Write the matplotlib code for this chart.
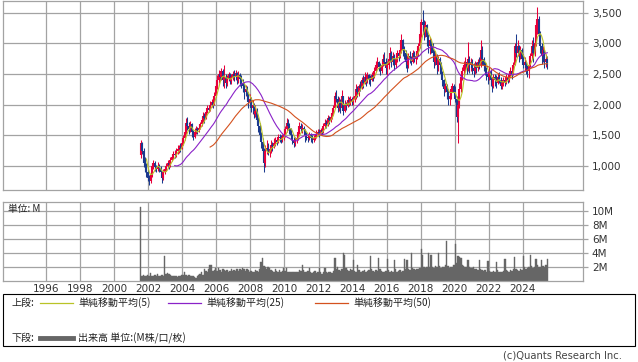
import numpy as np
import pandas as pd
import matplotlib
matplotlib.use('Agg')
import matplotlib.pyplot as plt
from matplotlib.patches import Rectangle
from matplotlib.lines import Line2D
from matplotlib.ticker import FuncFormatter

# monthly candles, Jul 2001 .. Jun 2025
first_open = 1180
close = [
    1380, 1250, 1050, 1000, 900, 800,                                   # 2001 (Jul-)
    760, 850, 1000, 1050, 980, 950, 1000, 960, 900, 800, 900, 950,       # 2002
    1000, 1050, 1020, 1100, 1150, 1200, 1180, 1250, 1280, 1300, 1280, 1380,
    1450, 1550, 1700, 1650, 1600, 1680, 1550, 1480, 1560, 1600, 1580, 1620,
    1680, 1750, 1820, 1780, 1880, 1950, 1920, 2000, 2050, 2000, 2150, 2300,
    2400, 2500, 2450, 2550, 2400, 2450, 2350, 2420, 2500, 2380, 2450, 2500,
    2450, 2520, 2400, 2480, 2420, 2350, 2300, 2200, 2250, 2150, 2050, 2100,
    1950, 2000, 1850, 1900, 1750, 1650, 1500, 1400, 1250, 1050, 1250, 1300,
    1230, 1280, 1350, 1320, 1380, 1420, 1400, 1480, 1450, 1420, 1480, 1500,
    1600, 1700, 1650, 1600, 1500, 1420, 1380, 1420, 1450, 1550, 1650, 1600,
    1620, 1580, 1500, 1480, 1450, 1500, 1460, 1420, 1450, 1480, 1520, 1550,
    1530, 1580, 1560, 1650, 1700, 1680, 1780, 1750, 1800, 1860, 1950, 2150,
    2100, 1950, 2050, 1950, 2150, 1900, 2000, 1980, 2080, 2050, 2100, 2050,
    2100, 2150, 2250, 2200, 2300, 2280, 2400, 2350, 2450, 2380, 2480, 2420,
    2400, 2480, 2450, 2550, 2650, 2700, 2620, 2550, 2650, 2750, 2700, 2600,
    2650, 2750, 2850, 2700, 2800, 2650, 2750, 2850, 2800, 2900, 3050, 2900,
    2850, 2700, 2650, 2800, 2750, 2700, 2850, 2750, 2800, 2880, 2950, 3150,
    3350, 3300, 3200, 3300, 3100, 2950, 3050, 2950, 2850, 2700, 2800, 2650,
    2750, 2650, 2500, 2400, 2250, 2300, 2200, 2100, 2150, 2250, 2300, 2200,
    2100, 1800, 2000, 2250, 2450, 2550, 2650, 2700, 2600, 2750, 2650, 2700,
    2600, 2550, 2650, 2600, 2700, 2650, 2900, 2750, 2650, 2550, 2500, 2450,
    2550, 2400, 2300, 2450, 2400, 2350, 2450, 2400, 2300, 2350, 2400, 2350,
    2450, 2400, 2500, 2550, 2500, 2650, 2950, 2850, 2950, 2800, 2900, 2750,
    2650, 2700, 2600, 2550, 2650, 2800, 2950, 2850, 3000, 3300, 3400, 3150,
    2950, 2800, 2900, 2700, 2750, 2650,                                  # 2025 (-Jun)
]
high = [
    1430, 1400, 1300, 1150, 1050, 950,
    850, 900, 1050, 1100, 1080, 1020, 1060, 1030, 1000, 920, 950, 1000,
    1050, 1100, 1080, 1150, 1200, 1250, 1260, 1300, 1350, 1350, 1380, 1420,
    1500, 1600, 1780, 1800, 1720, 1740, 1700, 1580, 1620, 1650, 1640, 1680,
    1720, 1800, 1880, 1860, 1920, 2000, 2000, 2060, 2100, 2080, 2200, 2350,
    2480, 2560, 2550, 2600, 2580, 2640, 2500, 2480, 2540, 2520, 2500, 2550,
    2560, 2560, 2540, 2550, 2520, 2480, 2420, 2350, 2320, 2300, 2200, 2180,
    2120, 2080, 2020, 2000, 1950, 1800, 1700, 1550, 1450, 1300, 1350, 1420,
    1380, 1350, 1420, 1400, 1450, 1480, 1460, 1530, 1520, 1500, 1530, 1560,
    1650, 1780, 1760, 1700, 1620, 1530, 1480, 1470, 1520, 1600, 1720, 1700,
    1680, 1660, 1600, 1560, 1530, 1550, 1540, 1500, 1500, 1520, 1580, 1600,
    1600, 1620, 1610, 1700, 1760, 1750, 1830, 1820, 1850, 1900, 2000, 2200,
    2247, 2150, 2120, 2100, 2240, 2150, 2080, 2050, 2150, 2130, 2150, 2130,
    2150, 2200, 2345, 2300, 2340, 2380, 2450, 2480, 2535, 2500, 2530, 2500,
    2480, 2535, 2520, 2620, 2720, 2780, 2720, 2680, 2720, 2820, 2860, 2760,
    2720, 2800, 2940, 2880, 2860, 2820, 2800, 2900, 2880, 2950, 3160, 3080,
    2950, 2890, 2750, 2850, 2880, 2800, 2900, 2880, 2850, 2920, 3000, 3200,
    3400, 3550, 3380, 3370, 3320, 3150, 3100, 3080, 3000, 2900, 2880, 2830,
    2800, 2780, 2700, 2550, 2420, 2350, 2330, 2250, 2200, 2300, 2350, 2340,
    2300, 2150, 2100, 2350, 2550, 2615, 2720, 2780, 2750, 3020, 2800, 2760,
    2750, 2680, 2720, 2700, 2750, 2780, 3050, 2950, 2780, 2700, 2620, 2560,
    2615, 2580, 2450, 2500, 2500, 2480, 2520, 2535, 2450, 2400, 2450, 2450,
    2500, 2480, 2550, 2615, 2600, 2700, 3000, 3160, 3050, 2980, 2950, 2920,
    2830, 2780, 2720, 2650, 2700, 2850, 3050, 3100, 3080, 3350, 3600, 3450,
    3200, 3000, 2950, 2900, 2830, 2800,
]
low = [
    1130, 1200, 980, 900, 820, 750,
    690, 720, 820, 950, 920, 900, 920, 900, 850, 730, 780, 870,
    920, 960, 950, 990, 1080, 1120, 1130, 1150, 1200, 1220, 1230, 1270,
    1350, 1430, 1520, 1580, 1520, 1560, 1480, 1420, 1450, 1530, 1520, 1560,
    1600, 1660, 1720, 1700, 1760, 1860, 1880, 1900, 1960, 1940, 1990, 2120,
    2250, 2350, 2380, 2400, 2300, 2280, 2270, 2300, 2380, 2330, 2340, 2400,
    2380, 2400, 2340, 2350, 2300, 2280, 2200, 2100, 2150, 2080, 1950, 1980,
    1880, 1850, 1780, 1800, 1700, 1550, 1420, 1300, 1100, 907, 980, 1200,
    1180, 1150, 1220, 1250, 1300, 1330, 1340, 1380, 1390, 1370, 1400, 1430,
    1480, 1560, 1580, 1520, 1420, 1360, 1315, 1330, 1380, 1430, 1520, 1550,
    1540, 1520, 1400, 1420, 1400, 1420, 1400, 1370, 1390, 1420, 1460, 1490,
    1480, 1500, 1510, 1540, 1620, 1620, 1660, 1690, 1720, 1760, 1840, 1940,
    2050, 1880, 1900, 1860, 1920, 1830, 1880, 1920, 1960, 1980, 2000, 1990,
    2000, 2050, 2100, 2120, 2150, 2220, 2250, 2280, 2330, 2300, 2360, 2340,
    2300, 2380, 2380, 2430, 2530, 2600, 2550, 2480, 2520, 2630, 2650, 2500,
    2480, 2580, 2700, 2620, 2650, 2560, 2600, 2700, 2720, 2760, 2850, 2800,
    2750, 2600, 2535, 2600, 2680, 2650, 2680, 2700, 2660, 2750, 2800, 2920,
    3100, 3150, 3050, 3100, 2950, 2850, 2830, 2850, 2720, 2600, 2650, 2500,
    2550, 2550, 2450, 2300, 2150, 2200, 2100, 2000, 1990, 2100, 2200, 2180,
    2050, 1720, 1370, 1950, 2200, 2400, 2480, 2550, 2500, 2550, 2520, 2550,
    2500, 2450, 2500, 2520, 2550, 2580, 2620, 2650, 2550, 2480, 2400, 2345,
    2400, 2300, 2210, 2280, 2300, 2265, 2330, 2350, 2250, 2250, 2300, 2300,
    2330, 2350, 2370, 2450, 2420, 2480, 2650, 2780, 2800, 2700, 2750, 2700,
    2600, 2550, 2500, 2450, 2440, 2620, 2750, 2700, 2800, 2950, 3150, 3050,
    2850, 2670, 2700, 2600, 2620, 2590,
]
volume_m = [
    10.6, 0.8, 0.9, 0.7, 0.8, 0.9,
    0.7, 1.2, 0.8, 0.7, 0.9, 0.8, 1.0, 0.8, 0.7, 0.9, 0.8, 3.6,
    1.0, 1.2, 1.0, 0.9, 0.8, 0.7, 0.7, 0.8, 0.6, 0.7, 0.8, 0.9,
    0.9, 1.4, 0.9, 0.8, 0.9, 0.8, 0.7, 0.8, 0.6, 0.5, 0.8, 0.9,
    1.0, 1.4, 0.9, 1.7, 1.5, 1.3, 1.7, 2.4, 2.3, 1.5, 1.6, 1.9,
    1.5, 1.9, 1.6, 1.4, 1.7, 1.6, 1.5, 1.6, 1.4, 1.5, 1.7, 1.5,
    1.6, 1.5, 1.8, 1.5, 1.7, 1.6, 1.9, 1.8, 1.5, 1.7, 1.6, 1.4,
    1.5, 1.4, 1.3, 1.6, 1.5, 1.4, 1.8, 2.8, 3.3, 2.2, 2.0, 1.8,
    2.1, 1.9, 1.6, 1.5, 1.4, 1.7, 1.5, 1.4, 1.6, 1.4, 1.5, 1.9,
    1.5, 1.9, 1.4, 1.3, 1.4, 1.3, 1.4, 1.3, 1.4, 1.3, 1.6, 1.5,
    2.3, 1.6, 1.4, 1.3, 1.5, 1.9, 1.3, 1.2, 1.4, 1.5, 1.2, 1.3,
    1.9, 1.3, 1.1, 1.4, 1.9, 1.3, 1.2, 1.3, 1.4, 1.2, 1.5, 3.3,
    1.8, 2.0, 1.6, 1.5, 1.7, 4.0, 3.8, 1.9, 1.6, 1.5, 1.8, 1.6,
    3.0, 1.5, 1.4, 2.3, 1.6, 1.4, 1.3, 1.5, 1.6, 1.4, 1.5, 1.6,
    3.6, 1.8, 1.5, 1.4, 1.6, 1.5, 3.3, 1.7, 1.5, 1.4, 1.3, 1.5,
    3.2, 1.6, 1.4, 1.5, 1.3, 3.0, 1.7, 1.4, 1.5, 1.6, 1.4, 1.5,
    3.2, 1.8, 3.0, 1.7, 1.6, 4.0, 1.9, 1.7, 1.6, 1.8, 1.7, 1.9,
    4.6, 3.8, 2.0, 1.9, 2.1, 4.1, 2.0, 3.8, 2.0, 1.9, 2.2, 2.1,
    4.0, 2.2, 1.9, 2.0, 2.1, 2.3, 5.7, 2.2, 1.9, 2.0, 2.1, 2.3,
    5.3, 2.6, 3.6, 3.5, 3.4, 2.4, 2.2, 2.0, 2.1, 3.0, 2.0, 1.9,
    1.9, 2.0, 1.7, 1.8, 1.6, 3.0, 1.7, 1.6, 1.5, 1.6, 1.4, 2.9,
    1.5, 1.4, 1.3, 1.5, 1.4, 2.8, 1.6, 1.4, 1.3, 1.4, 1.5, 3.2,
    1.6, 1.5, 1.4, 1.6, 1.5, 1.7, 3.5, 1.8, 1.6, 1.5, 1.7, 1.6,
    3.6, 2.0, 1.8, 1.9, 2.1, 3.7, 2.2, 1.9, 2.0, 3.2, 2.3, 2.0,
    2.1, 3.0, 2.2, 2.0, 2.4, 3.2,
]
years = list(range(1996, 2025, 2))
price_ticks = [1000, 1500, 2000, 2500, 3000, 3500]
vol_ticks = [2, 4, 6, 8, 10]
ma_periods = [5, 25, 50]
ma_colors = ['#b9c326', '#8a22c8', '#d4511e']

close = np.array(close, float)
high = np.array(high, float)
low = np.array(low, float)
opens = np.r_[first_open, close[:-1]]
months = pd.date_range('2001-07-01', periods=len(close), freq='MS')
t = np.asarray(months.year + (months.month - 0.5) / 12)

W, H = 638, 362
GRID = '#a3a3a3'
JP = ['Noto Sans CJK JP', 'DejaVu Sans']

def box(x0, y0, x1, y1):
    return [x0 / W, 1 - y1 / H, (x1 - x0) / W, (y1 - y0) / H]

fig = plt.figure(figsize=(W / 100, H / 100), dpi=100)
ax = fig.add_axes(box(3.3, 0.5, 582.7, 190))
axv = fig.add_axes(box(3.3, 201.5, 582.7, 281.3))

for a in (ax, axv):
    a.set_xlim(1993.46, 2027.54)
    a.set_xticks(years)
    a.grid(True, color=GRID, lw=0.9)
    a.set_axisbelow(True)
    for s in a.spines.values():
        s.set_color(GRID)
        s.set_linewidth(0.9)
    a.yaxis.tick_right()
    a.tick_params(axis='y', length=3.6, width=0.9, color=GRID, pad=3,
                  labelsize=7.5, labelcolor='#333333')

# candles
up = close >= opens
cols = np.where(up, '#e8003a', '#1b3a8e')
ax.vlines(t, low, high, colors=cols, lw=0.75)
ax.vlines(t, np.minimum(opens, close), np.maximum(opens, close), colors=cols, lw=1.5)
s = pd.Series(close)
for n, c in zip(ma_periods, ma_colors):
    ax.plot(t, s.rolling(n).mean(), color=c, lw=0.8)
ax.set_ylim(609, 3700)
ax.set_yticks(price_ticks)
ax.yaxis.set_major_formatter(FuncFormatter(lambda v, p: f'{v:,.0f}'))
ax.tick_params(axis='x', length=0, labelbottom=False)

# volume
axv.bar(t, volume_m, width=1 / 12, color='#666666', ec='#666666', lw=0.3)
axv.set_ylim(0, 11.4)
axv.set_yticks(vol_ticks)
axv.set_yticklabels([f'{v}M' for v in vol_ticks])
axv.set_xticklabels([str(y) for y in years])
axv.tick_params(axis='x', length=0, pad=2, labelsize=7.5, labelcolor='#333333')
axv.text(0.008, 0.9, '単位: M', transform=axv.transAxes, fontsize=7, family=JP,
         va='center', ha='left', color='#222222')

# legend box
fig.add_artist(Rectangle((3 / W, 1 - 346 / H), 632 / W, 52 / H, transform=fig.transFigure,
                         fill=False, ec='black', lw=0.8))

def ftxt(x, y, txt, **kw):
    fig.text(x / W, 1 - y / H, txt, va='center', ha='left', fontsize=7.2,
             family=JP, color='#222222', **kw)

def fline(x0, x1, y, c, lw):
    fig.add_artist(Line2D([x0 / W, x1 / W], [1 - y / H] * 2, transform=fig.transFigure,
                          color=c, lw=lw))

ftxt(11, 303, '上段:')
for (x0, n), c in zip([(40, 5), (168, 25), (315, 50)], ma_colors):
    fline(x0, x0 + 33, 303, c, 0.9)
    ftxt(x0 + 38, 303, f'単純移動平均({n})')
ftxt(11, 338, '下段:')
fline(40, 73, 338, '#666666', 3.5)
ftxt(78, 338, '出来高 単位:(M株/口/枚)')

fig.text(622 / W, 1 - 356 / H, '(c)Quants Research Inc.', ha='right', va='center',
         fontsize=7.2, color='#444444')

fig.savefig('out.png', dpi=100)
